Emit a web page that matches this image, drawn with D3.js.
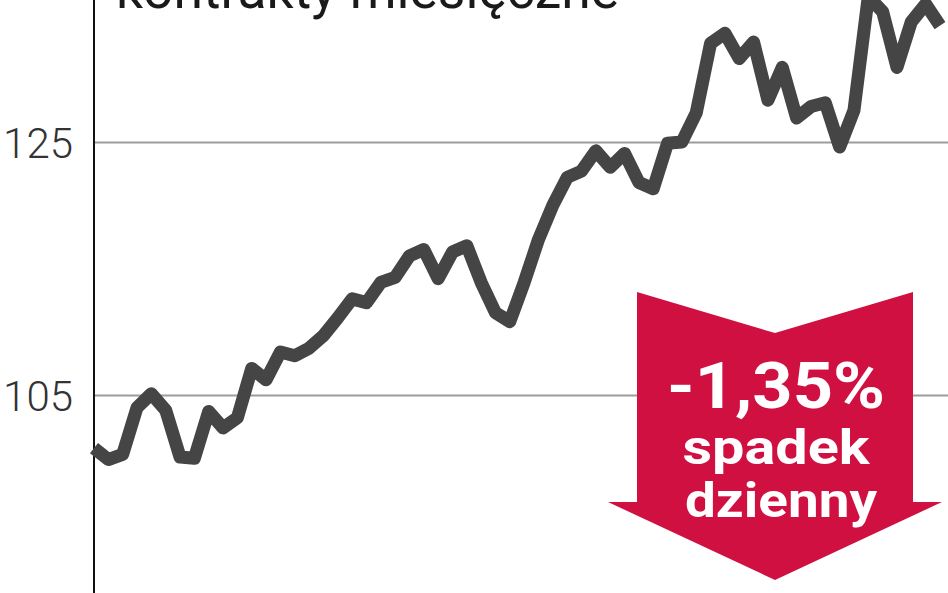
<!DOCTYPE html>
<html>
<head>
<meta charset="utf-8">
<script src="https://cdn.jsdelivr.net/npm/d3@7"></script>
<style>
  html, body { margin: 0; padding: 0; background: #fff; }
  svg { display: block; }
</style>
</head>
<body>
<svg id="chart"></svg>
<script>
// monthly futures, one value per session
const values = [
  100.8, 99.9, 100.3, 104.0, 105.1, 103.8, 100.1, 100.0, 103.7, 102.4,
  103.2, 107.1, 106.2, 108.4, 108.1, 108.7, 109.7, 111.1, 112.6, 112.3,
  113.9, 114.3, 116.0, 116.5, 114.2, 116.3, 116.8, 113.9, 111.5, 110.8,
  113.9, 117.3, 120.0, 122.2, 122.7, 124.3, 123.0, 124.1, 121.8, 121.3,
  124.9, 125.0, 127.3, 132.8, 133.6, 131.6, 132.9, 128.3, 130.9, 126.9,
  127.8, 128.1, 124.6, 127.5, 136.5, 135.3, 130.9, 134.5, 135.9, 134.2
];
const yTicks = [105, 125];
const titleText = 'kontrakty miesięczne';
const badgeLines = ['-1,35%', 'spadek', 'dzienny'];

const W = 948, H = 593;
const axisX = 94;

const svg = d3.select('#chart')
  .attr('width', W)
  .attr('height', H)
  .attr('viewBox', `0 0 ${W} ${H}`);

const x = d3.scaleLinear()
  .domain([0, values.length - 1])
  .range([axisX, 940]);

const y = d3.scaleLinear()
  .domain([105, 125])
  .range([395, 142]);

// gridlines + tick labels
const yAxis = d3.axisLeft(y)
  .tickValues(yTicks)
  .tickSize(-(W - axisX))
  .tickPadding(21)
  .tickFormat(d3.format('d'));

const gy = svg.append('g')
  .attr('transform', `translate(${axisX},0)`)
  .call(yAxis);

gy.select('.domain').remove();
gy.selectAll('.tick line')
  .attr('stroke', '#9c9c9c')
  .attr('stroke-width', 2);
gy.selectAll('.tick text')
  .attr('fill', '#333')
  .attr('font-family', 'Roboto, sans-serif')
  .attr('font-weight', 300)
  .attr('font-size', 42)
  .attr('dy', '0.36em');

// vertical axis
svg.append('line')
  .attr('x1', axisX).attr('x2', axisX)
  .attr('y1', 0).attr('y2', H)
  .attr('stroke', '#111')
  .attr('stroke-width', 2);

// title, cut by the top edge like in the print
svg.append('text')
  .attr('x', 116)
  .attr('y', 8)
  .attr('font-family', 'Roboto, sans-serif')
  .attr('font-size', 54)
  .attr('fill', '#1a1a1a')
  .attr('textLength', 503)
  .attr('lengthAdjust', 'spacingAndGlyphs')
  .text(titleText);

// price line
const line = d3.line()
  .x((d, i) => x(i))
  .y(d => y(d));

svg.append('path')
  .datum(values)
  .attr('d', line)
  .attr('fill', 'none')
  .attr('stroke', '#454545')
  .attr('stroke-width', 13)
  .attr('stroke-linejoin', 'round')
  .attr('stroke-linecap', 'butt');

// red down arrow badge
const cx = 775;
const arrow = {top: 292, notch: 41, shaftHalf: 138, wingHalf: 167, shoulder: 502, tip: 580};
const pts = [
  [cx - arrow.shaftHalf, arrow.top],
  [cx, arrow.top + arrow.notch],
  [cx + arrow.shaftHalf, arrow.top],
  [cx + arrow.shaftHalf, arrow.shoulder],
  [cx + arrow.wingHalf, arrow.shoulder],
  [cx, arrow.tip],
  [cx - arrow.wingHalf, arrow.shoulder],
  [cx - arrow.shaftHalf, arrow.shoulder]
];

svg.append('path')
  .attr('d', d3.line()(pts) + 'Z')
  .attr('fill', '#cf1040');

const badge = svg.append('g')
  .attr('font-family', 'Roboto, sans-serif')
  .attr('font-weight', 700)
  .attr('fill', '#fff')
  .attr('text-anchor', 'middle');

const badgeStyle = [
  {y: 408, size: 64, len: 218},
  {y: 464, size: 49, len: 187},
  {y: 517, size: 49, len: 192}
];

badge.selectAll('text')
  .data(badgeLines)
  .join('text')
    .attr('x', (d, i) => i === 2 ? cx + 6 : cx + 1)
    .attr('y', (d, i) => badgeStyle[i].y)
    .attr('font-size', (d, i) => badgeStyle[i].size)
    .attr('textLength', (d, i) => badgeStyle[i].len)
    .attr('lengthAdjust', 'spacingAndGlyphs')
    .text(d => d);
</script>
</body>
</html>
